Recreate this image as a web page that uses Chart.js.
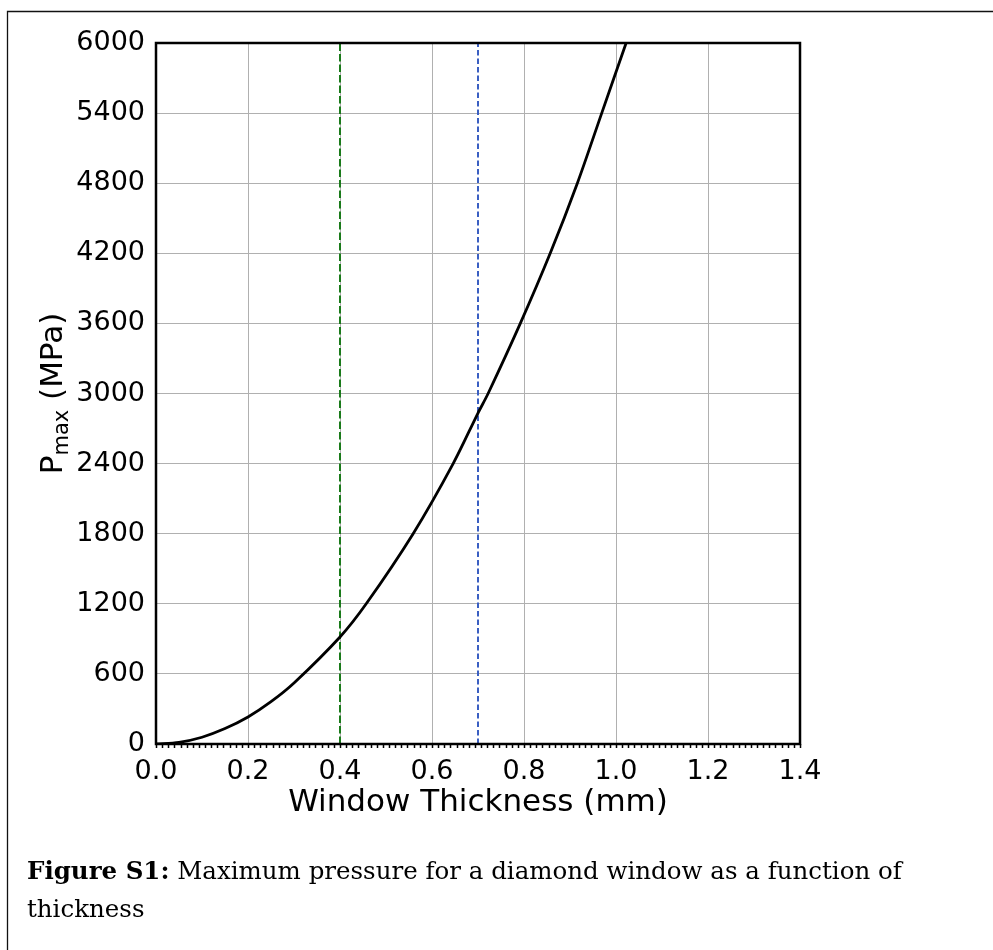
<!DOCTYPE html>
<html>
<head>
<meta charset="utf-8">
<script src="https://cdn.jsdelivr.net/npm/chart.js@4.4.1/dist/chart.umd.min.js"></script>
<style>
  html, body { margin: 0; padding: 0; background: #fff; }
  #wrap { position: relative; width: 993px; height: 950px; }
  #chart { position: absolute; left: 0; top: 0; }
  #caption {
    position: absolute; left: 27px; top: 852px; width: 900px;
    font-family: "DejaVu Serif", serif; font-size: 24.5px; line-height: 38px; color: #000;
  }
</style>
</head>
<body>
<div id="wrap">
  <canvas id="chart" width="993" height="950"></canvas>
  <div id="caption"><b>Figure S1:</b> Maximum pressure for a diamond window as a function of<br>thickness</div>
</div>
<script>
// window thickness (mm) and max pressure (MPa)
const thickness = [0, 0.05, 0.1, 0.15, 0.2, 0.25, 0.3, 0.4, 0.457, 0.559, 0.646, 0.7, 0.722, 0.792, 0.857, 0.916, 0.969, 1.022]
const pmax      = [0, 14,   58,  132,  231, 362,  522, 916, 1200,  1800,  2400,  2833, 3000, 3600,  4200,  4800,  5400,  6000]

// the two dashed marker lines
const markerX = [0.4, 0.7]
const markerColors = ['#1a7a1a', '#3a5fc2']

const xTicks = [0, 0.2, 0.4, 0.6, 0.8, 1.0, 1.2, 1.4]
const yTicks = [0, 600, 1200, 1800, 2400, 3000, 3600, 4200, 4800, 5400, 6000]

const tickFont = { family: 'DejaVu Sans', size: 27 }
const labelFont = 'DejaVu Sans'

const curve = thickness.map((t, i) => ({ x: t, y: pmax[i] }))

const markerSets = markerX.map((mx, i) => ({
  label: 'marker ' + mx,
  data: [{ x: mx, y: yTicks[0] }, { x: mx, y: yTicks[yTicks.length - 1] }],
  borderColor: markerColors[i],
  borderWidth: 2,
  borderDash: i === 0 ? [7.5, 3] : [5.5, 3],
  pointRadius: 0,
  fill: false
}))

// frame, axis titles, minor ticks
const decorPlugin = {
  id: 'decor',
  beforeDraw(chart) {
    const ctx = chart.ctx
    ctx.save()
    ctx.strokeStyle = '#111'
    ctx.lineWidth = 1.3
    ctx.beginPath()
    ctx.moveTo(7.5, 950)
    ctx.lineTo(7.5, 11.5)
    ctx.lineTo(993, 11.5)
    ctx.stroke()
    ctx.restore()
  },
  afterDraw(chart) {
    const ctx = chart.ctx
    const a = chart.chartArea
    const xs = chart.scales.x
    ctx.save()
    // box
    ctx.strokeStyle = '#000'
    ctx.lineWidth = 2.5
    ctx.strokeRect(a.left, a.top, a.right - a.left, a.bottom - a.top)

    // minor ticks under the x axis
    ctx.lineWidth = 1.5
    ctx.beginPath()
    const step = 0.2 / 15
    for (let v = 0; v <= 1.4 + 1e-9; v += step) {
      const px = Math.round(xs.getPixelForValue(v)) + 0.5
      ctx.moveTo(px, a.bottom)
      ctx.lineTo(px, a.bottom + 4)
    }
    ctx.stroke()

    // x title
    ctx.fillStyle = '#000'
    ctx.font = '31px ' + labelFont
    ctx.textAlign = 'center'
    ctx.textBaseline = 'alphabetic'
    ctx.fillText('Window Thickness (mm)', (a.left + a.right) / 2, 811)

    // y title with subscript
    const big = '31px ' + labelFont
    const small = '21px ' + labelFont
    ctx.font = big
    const wP = ctx.measureText('P').width
    const wRest = ctx.measureText(' (MPa)').width
    ctx.font = small
    const wSub = ctx.measureText('max').width
    const total = wP + wSub + wRest
    ctx.translate(62, (a.top + a.bottom) / 2)
    ctx.rotate(-Math.PI / 2)
    ctx.textAlign = 'left'
    let x0 = -total / 2
    ctx.font = big
    ctx.fillText('P', x0, 0)
    x0 += wP
    ctx.font = small
    ctx.fillText('max', x0, 6)
    x0 += wSub
    ctx.font = big
    ctx.fillText(' (MPa)', x0, 0)
    ctx.restore()
  }
}

new Chart(document.getElementById('chart'), {
  type: 'line',
  data: {
    datasets: [
      {
        label: 'Pmax',
        data: curve,
        borderColor: '#000',
        borderWidth: 2.8,
        pointRadius: 0,
        tension: 0.3,
        fill: false
      },
      ...markerSets
    ]
  },
  options: {
    responsive: false,
    animation: false,
    layout: { padding: { left: 0, top: 43, right: 193, bottom: 0 } },
    plugins: {
      legend: { display: false },
      tooltip: { enabled: false }
    },
    scales: {
      x: {
        type: 'linear',
        min: xTicks[0],
        max: xTicks[xTicks.length - 1],
        afterBuildTicks: (s) => { s.ticks = xTicks.map(v => ({ value: v })) },
        afterFit: (s) => { s.height = 950 - 744 },
        grid: { color: '#b0b0b0', lineWidth: 1, drawTicks: false },
        border: { display: false },
        ticks: {
          font: tickFont,
          color: '#000',
          padding: 12,
          maxRotation: 0,
          callback: (v) => Number(v).toFixed(1)
        }
      },
      y: {
        type: 'linear',
        min: yTicks[0],
        max: yTicks[yTicks.length - 1],
        afterBuildTicks: (s) => { s.ticks = yTicks.map(v => ({ value: v })) },
        afterFit: (s) => { s.width = 156 },
        grid: { color: '#b0b0b0', lineWidth: 1, drawTicks: false },
        border: { display: false },
        ticks: {
          font: tickFont,
          color: '#000',
          padding: 11,
          callback: (v) => String(v)
        }
      }
    }
  },
  plugins: [decorPlugin]
})
</script>
</body>
</html>
